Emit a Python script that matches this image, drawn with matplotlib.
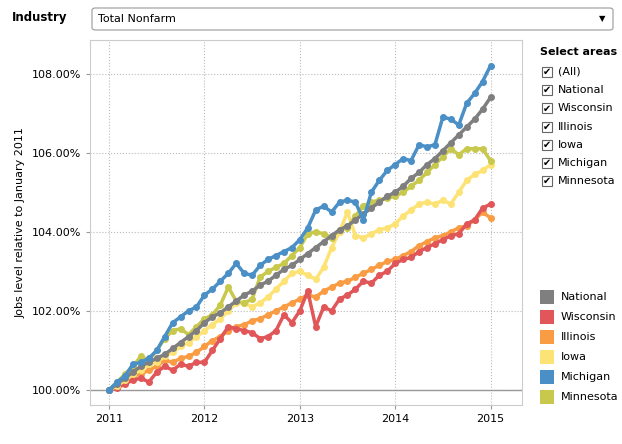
import numpy as np
import matplotlib.pyplot as plt
from matplotlib.patches import Rectangle, FancyBboxPatch

months = np.arange(49)
x = 2011 + months / 12.0

national = [100.0, 100.15, 100.3, 100.45, 100.6, 100.7, 100.8, 100.9, 101.05, 101.2, 101.35, 101.5,
            101.7, 101.85, 101.95, 102.1, 102.25, 102.4, 102.5, 102.65, 102.75, 102.9, 103.05, 103.15,
            103.3, 103.45, 103.6, 103.75, 103.9, 104.05, 104.15, 104.3, 104.45, 104.6, 104.75, 104.9,
            105.0, 105.15, 105.35, 105.5, 105.7, 105.85, 106.05, 106.25, 106.45, 106.65, 106.85, 107.1, 107.4]
wisconsin = [100.0, 100.05, 100.15, 100.25, 100.3, 100.2, 100.45, 100.6, 100.5, 100.65, 100.6, 100.7,
             100.7, 101.0, 101.3, 101.6, 101.55, 101.5, 101.45, 101.3, 101.35, 101.5, 101.9, 101.7,
             102.0, 102.5, 101.6, 102.1, 102.0, 102.3, 102.4, 102.55, 102.75, 102.7, 102.9, 103.0,
             103.2, 103.3, 103.35, 103.5, 103.6, 103.7, 103.8, 103.9, 103.95, 104.2, 104.3, 104.6, 104.7]
illinois = [100.0, 100.1, 100.2, 100.35, 100.4, 100.5, 100.6, 100.75, 100.7, 100.8, 100.85, 100.95,
            101.1, 101.25, 101.35, 101.5, 101.6, 101.65, 101.75, 101.8, 101.9, 102.0, 102.1, 102.2,
            102.3, 102.4, 102.35, 102.5, 102.6, 102.7, 102.75, 102.85, 102.95, 103.05, 103.15, 103.25,
            103.3, 103.4, 103.5, 103.65, 103.75, 103.85, 103.9, 104.0, 104.1, 104.15, 104.3, 104.5, 104.35]
iowa = [100.0, 100.1, 100.25, 100.4, 100.5, 100.65, 100.7, 100.85, 100.95, 101.1, 101.2, 101.35,
        101.5, 101.65, 101.8, 102.0, 102.2, 102.2, 102.1, 102.2, 102.35, 102.55, 102.75, 102.95,
        103.0, 102.9, 102.8, 103.1, 103.6, 104.0, 104.5, 103.9, 103.85, 103.95, 104.05, 104.1,
        104.2, 104.4, 104.55, 104.7, 104.75, 104.7, 104.8, 104.7, 105.0, 105.3, 105.45, 105.55, 105.7]
michigan = [100.0, 100.2, 100.35, 100.65, 100.7, 100.8, 101.0, 101.35, 101.7, 101.85, 102.0, 102.1,
            102.4, 102.55, 102.75, 102.95, 103.2, 102.95, 102.9, 103.15, 103.3, 103.4, 103.5, 103.6,
            103.8, 104.1, 104.55, 104.65, 104.5, 104.75, 104.8, 104.75, 104.3, 105.0, 105.3, 105.55,
            105.7, 105.85, 105.8, 106.2, 106.15, 106.2, 106.9, 106.85, 106.7, 106.9, 106.75, 106.9, 107.1,
            ][:48] + [108.2]
michigan[45:48] = [107.25, 107.5, 107.8]
minnesota = [100.0, 100.2, 100.4, 100.6, 100.85, 100.75, 101.0, 101.3, 101.5, 101.55, 101.4, 101.6,
             101.8, 101.9, 102.15, 102.6, 102.25, 102.2, 102.3, 102.85, 103.0, 103.1, 103.2, 103.4,
             103.6, 103.95, 104.0, 103.95, 103.85, 104.05, 104.1, 104.4, 104.65, 104.75, 104.8, 104.85,
             104.9, 105.0, 105.15, 105.3, 105.5, 105.7, 105.9, 106.1, 105.95, 106.1, 106.1, 106.1, 105.8]

areas = ["National", "Wisconsin", "Illinois", "Iowa", "Michigan", "Minnesota"]
series = [national, wisconsin, illinois, iowa, michigan, minnesota]
colors = ["#7f7f80", "#e15759", "#f99c43", "#fde375", "#4a8fc6", "#c8c84c"]
draw_order = [2, 1, 3, 5, 0, 4]

fig = plt.figure(figsize=(6.22, 4.44), dpi=100)
ax = fig.add_axes([90 / 622, 39 / 444, 432 / 622, 365 / 444])
for i in draw_order:
    ax.plot(x, series[i], color=colors[i], lw=2.5, marker="o", ms=4, zorder=3)
ax.set_xlim(2010.8, 2015.33)
ax.set_ylim(99.62, 108.85)
ax.set_xticks([2011, 2012, 2013, 2014, 2015])
ax.set_xticklabels(["2011", "2012", "2013", "2014", "2015"])
ax.set_yticks([100, 102, 104, 106, 108])
ax.set_yticklabels(["100.00%", "102.00%", "104.00%", "106.00%", "108.00%"])
ax.tick_params(labelsize=8, length=3, color="#999999")
ax.grid(True, linestyle=":", color="#bbbbbb", lw=0.8)
ax.axhline(100, color="#999999", lw=1, zorder=2)
for s in ax.spines.values():
    s.set_color("#cccccc")
ax.set_ylabel("Jobs level relative to January 2011", fontsize=8)

# header
fig.text(12 / 622, 1 - 18 / 444, "Industry", fontsize=8.5, fontweight="bold", va="center")
fig.patches.append(FancyBboxPatch((92 / 622, 1 - 30 / 444), 521 / 622, 22 / 444,
                                  boxstyle="round,pad=0,rounding_size=0.005",
                                  transform=fig.transFigure, fc="white", ec="#999999", lw=0.8))
fig.text(98 / 622, 1 - 19 / 444, "Total Nonfarm", fontsize=8, va="center")
fig.text(602 / 622, 1 - 19 / 444, "▼", fontsize=6, va="center", ha="center")

# select areas
fig.text(540 / 622, 1 - 52 / 444, "Select areas", fontsize=8, fontweight="bold", va="center")
for k, name in enumerate(["(All)"] + areas):
    yy = 1 - (72 + k * 18.2) / 444
    fig.patches.append(Rectangle((542 / 622, yy - 5 / 444), 10 / 622, 10 / 444,
                                 transform=fig.transFigure, fc="white", ec="#666666", lw=0.8))
    fig.text(547 / 622, yy, "✔", fontsize=7, ha="center", va="center")
    fig.text(558 / 622, yy, name, fontsize=8, va="center")

# colour legend
for k, name in enumerate(areas):
    yy = 1 - (297 + k * 20) / 444
    fig.patches.append(Rectangle((540 / 622, yy - 7 / 444), 14 / 622, 14 / 444,
                                 transform=fig.transFigure, fc=colors[k], ec="none"))
    fig.text(561 / 622, yy, name, fontsize=8, va="center")

fig.savefig("out.png", dpi=100)
